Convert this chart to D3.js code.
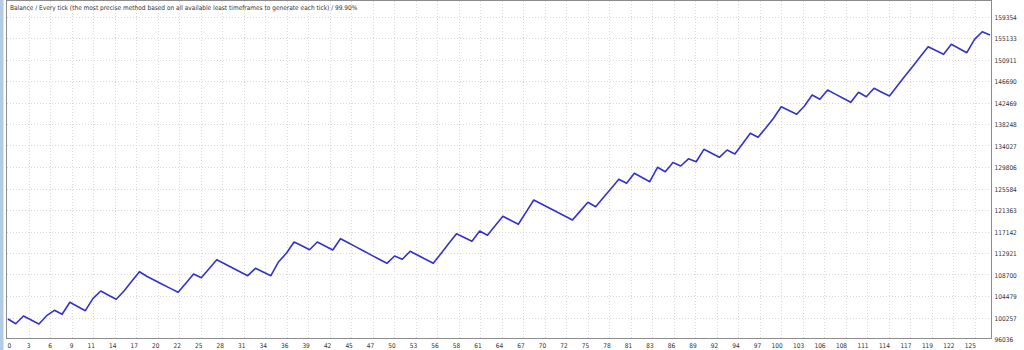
<!DOCTYPE html>
<html>
<head>
<meta charset="utf-8">
<script src="https://cdn.jsdelivr.net/npm/d3@7"></script>
<style>
  html, body { margin: 0; padding: 0; background: #fff; }
  svg { display: block; }
  .lbl { font-family: "DejaVu Sans Condensed", "DejaVu Sans", sans-serif; font-size: 6.5px; fill: #333; }
  .grid line { stroke: #d9d9d9; stroke-width: 1; stroke-dasharray: 1 2; }
</style>
</head>
<body>
<div id="chart"></div>
<script>
// =====================
// Data
// =====================
const title = "Balance / Every tick (the most precise method based on all available least timeframes to generate each tick) / 99.90%";

const xTickLabels = [0, 3, 6, 9, 11, 14, 17, 20, 22, 25, 28, 31, 34, 36, 39, 42, 45, 47, 50, 53, 56, 58, 61, 64, 67, 70, 72, 75, 78, 81, 83, 86, 89, 92, 94, 97, 100, 103, 106, 108, 111, 114, 117, 119, 122, 125];

const yTickValues = [96036, 100257, 104479, 108700, 112921, 117142, 121363, 125584, 129806, 134027, 138248, 142469, 146690, 150911, 155133, 159354];

// balance after each trade (trade 0 .. 127)
const balance = [
  99963, 99040, 100552, 99766, 98981, 100611, 101671, 100885, 103241, 102417,
  101592, 104027, 105460, 104635, 103830, 105460, 107364, 109249, 108307, 107521,
  106736, 105970, 105205, 106972, 108797, 108071, 109838, 111605, 110820, 110034,
  109249, 108464, 109917, 109190, 108464, 111212, 112862, 115080, 114334, 113568,
  115080, 114295, 113509, 115728, 114923, 114118, 113313, 112508, 111703, 110898,
  112331, 111684, 113254, 112469, 111684, 110898, 112822, 114766, 116710, 115963,
  115217, 117240, 116396, 118261, 120126, 119340, 118555, 120950, 123326, 122541,
  121755, 120970, 120185, 119399, 121147, 122874, 122010, 123797, 125584, 127390,
  126605, 128568, 127743, 126919, 129746, 128882, 130688, 130001, 131415, 130845,
  133280, 132495, 131709, 133142, 132357, 134379, 136421, 135636, 137462, 139366,
  141643, 140897, 140151, 141781, 143941, 143096, 144922, 144117, 143312, 142507,
  144471, 143607, 145256, 144490, 143744, 145707, 147671, 149536, 151499, 153423,
  152677, 151931, 153895, 153070, 152245, 154876, 156369, 155720
];

// =====================
// Layout
// =====================
const width = 1024;
const height = 350;
const plot = { left: 7, right: 992, top: 1, bottom: 339 };

const svg = d3.select("#chart").append("svg")
  .attr("width", width)
  .attr("height", height);

const x = d3.scaleLinear()
  .domain([0, balance.length - 1])
  .range([8, 990]);

// gridlines / labels of the trade axis sit at equal pixel steps
const xGrid = d3.scalePoint()
  .domain(xTickLabels)
  .range([plot.left + 0.5, x(125)]);

const y = d3.scaleLinear()
  .domain([yTickValues[0], yTickValues[yTickValues.length - 1]])
  .range([plot.bottom, 16.5]);

// left blue strip
svg.append("rect")
  .attr("x", 0).attr("y", 0)
  .attr("width", 3.5).attr("height", height)
  .attr("fill", "#b3cbe3");

// =====================
// Grid
// =====================
const grid = svg.append("g").attr("class", "grid");

grid.selectAll(".gx")
  .data(xTickLabels.slice(1))
  .enter().append("line")
  .attr("x1", d => Math.round(xGrid(d)) + 0.5)
  .attr("x2", d => Math.round(xGrid(d)) + 0.5)
  .attr("y1", plot.top)
  .attr("y2", plot.bottom);

grid.selectAll(".gy")
  .data(yTickValues.slice(1))
  .enter().append("line")
  .attr("x1", plot.left)
  .attr("x2", plot.right)
  .attr("y1", d => Math.round(y(d)) + 0.5)
  .attr("y2", d => Math.round(y(d)) + 0.5);

// frame
svg.append("rect")
  .attr("x", plot.left - 0.5)
  .attr("y", plot.top - 0.5)
  .attr("width", plot.right - plot.left)
  .attr("height", plot.bottom - plot.top)
  .attr("fill", "none")
  .attr("stroke", "#8c8c8c")
  .attr("stroke-width", 1);

// =====================
// Balance line
// =====================
const line = d3.line()
  .x((d, i) => x(i))
  .y(d => y(d));

svg.append("path")
  .datum(balance)
  .attr("fill", "none")
  .attr("stroke", "#3333cc")
  .attr("stroke-width", 1.6)
  .attr("stroke-linejoin", "round")
  .attr("d", line);

// =====================
// Labels
// =====================
svg.append("text")
  .attr("class", "lbl")
  .attr("x", 10)
  .attr("y", 10)
  .text(title);

svg.selectAll(".ylab")
  .data(yTickValues)
  .enter().append("text")
  .attr("class", "lbl")
  .attr("x", plot.right + 2.5)
  .attr("y", d => y(d) + 3.3)
  .text(d => d);

svg.selectAll(".xlab")
  .data(xTickLabels)
  .enter().append("text")
  .attr("class", "lbl")
  .attr("text-anchor", (d, i) => i === 0 ? "start" : "end")
  .attr("x", (d, i) => i === 0 ? plot.left + 0.5 : xGrid(d) + 1.5)
  .attr("y", plot.bottom + 8.5)
  .text(d => d);
</script>
</body>
</html>
